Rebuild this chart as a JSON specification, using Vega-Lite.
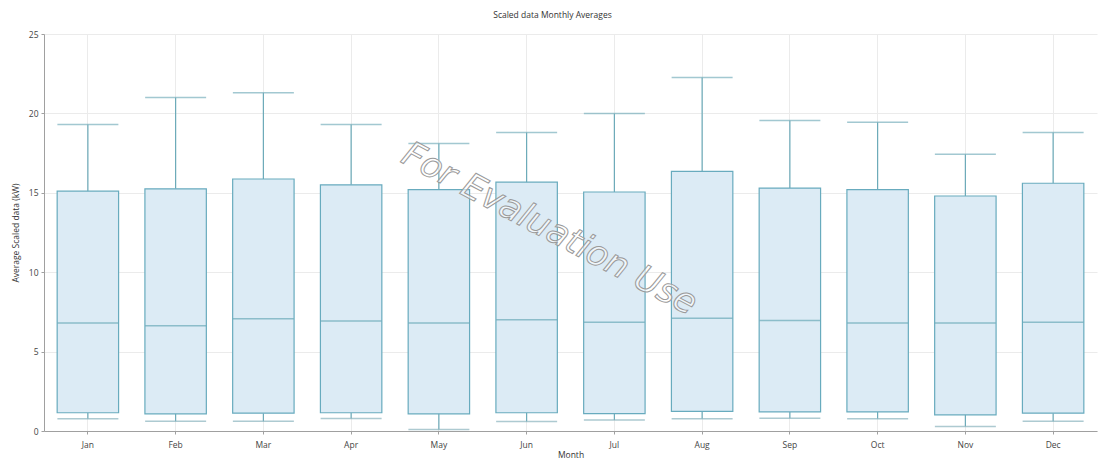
{
  "$schema": "https://vega.github.io/schema/vega-lite/v6.json",
  "width": 1053,
  "height": 397,
  "autosize": {"type": "none"},
  "padding": {"left": 44, "top": 34, "right": 2, "bottom": 32},
  "background": "white",
  "title": {
    "text": "Scaled data Monthly Averages",
    "font": "Open Sans",
    "fontSize": 8.5,
    "fontWeight": "normal",
    "color": "#333333",
    "anchor": "middle",
    "dx": -18,
    "offset": 11
  },
  "config": {
    "view": {"stroke": null},
    "axis": {
      "labelFont": "Open Sans",
      "titleFont": "Open Sans",
      "labelFontSize": 8.5,
      "titleFontSize": 8.5,
      "titleFontWeight": "normal",
      "labelColor": "#444444",
      "titleColor": "#333333",
      "domainColor": "#a0a0a0",
      "tickColor": "#a0a0a0",
      "gridColor": "#ebebeb",
      "tickSize": 3
    }
  },
  "data": {
    "values": [
      {"month": "Jan", "low": 0.77, "q1": 1.15, "median": 6.8, "q3": 15.1, "high": 19.3},
      {"month": "Feb", "low": 0.62, "q1": 1.08, "median": 6.62, "q3": 15.25, "high": 21.0},
      {"month": "Mar", "low": 0.62, "q1": 1.12, "median": 7.07, "q3": 15.87, "high": 21.3},
      {"month": "Apr", "low": 0.79, "q1": 1.15, "median": 6.92, "q3": 15.5, "high": 19.3},
      {"month": "May", "low": 0.1, "q1": 1.08, "median": 6.8, "q3": 15.2, "high": 18.1},
      {"month": "Jun", "low": 0.6, "q1": 1.15, "median": 7.0, "q3": 15.67, "high": 18.8},
      {"month": "Jul", "low": 0.7, "q1": 1.1, "median": 6.85, "q3": 15.05, "high": 20.0},
      {"month": "Aug", "low": 0.77, "q1": 1.23, "median": 7.1, "q3": 16.35, "high": 22.26},
      {"month": "Sep", "low": 0.8, "q1": 1.2, "median": 6.96, "q3": 15.3, "high": 19.56},
      {"month": "Oct", "low": 0.77, "q1": 1.2, "median": 6.8, "q3": 15.2, "high": 19.44},
      {"month": "Nov", "low": 0.28, "q1": 1.02, "median": 6.8, "q3": 14.8, "high": 17.42},
      {"month": "Dec", "low": 0.62, "q1": 1.12, "median": 6.85, "q3": 15.6, "high": 18.79}
    ]
  },
  "encoding": {
    "x": {
      "field": "month",
      "type": "nominal",
      "sort": null,
      "scale": {"paddingInner": 0, "paddingOuter": 0},
      "axis": {
        "title": "Month",
        "labelAngle": 0,
        "grid": true,
        "bandPosition": 0.5,
        "labelPadding": 6,
        "titlePadding": 2
      }
    }
  },
  "layer": [
    {
      "mark": {"type": "rule", "color": "#6aa9b8", "strokeWidth": 1.2},
      "encoding": {
        "y": {
          "field": "low",
          "type": "quantitative",
          "scale": {"domain": [0, 25], "nice": false, "zero": true},
          "axis": {
            "title": "Average Scaled data (kW)",
            "values": [0, 5, 10, 15, 20, 25],
            "grid": true,
            "labelPadding": 3,
            "titlePadding": 8
          }
        },
        "y2": {"field": "q1"}
      }
    },
    {
      "mark": {"type": "rule", "color": "#6aa9b8", "strokeWidth": 1.2},
      "encoding": {
        "y": {"field": "q3", "type": "quantitative"},
        "y2": {"field": "high"}
      }
    },
    {
      "mark": {"type": "bar", "width": {"band": 0.7}, "fill": "#dcebf5", "stroke": "#68abbe", "strokeWidth": 1.2},
      "encoding": {
        "y": {"field": "q1", "type": "quantitative"},
        "y2": {"field": "q3"}
      }
    },
    {
      "mark": {"type": "tick", "size": 61, "thickness": 1.5, "color": "#6aa9b8"},
      "encoding": {"y": {"field": "median", "type": "quantitative"}}
    },
    {
      "mark": {"type": "tick", "size": 61, "thickness": 1.5, "color": "#7ab0bd"},
      "encoding": {"y": {"field": "high", "type": "quantitative"}}
    },
    {
      "mark": {"type": "tick", "size": 61, "thickness": 1.5, "color": "#8ab4bd"},
      "encoding": {"y": {"field": "low", "type": "quantitative"}}
    },
    {
      "data": {"values": [{"month": "Jun", "v": 13.5, "label": "For Evaluation Use"}]},
      "mark": {
        "type": "text",
        "angle": 28,
        "font": "DejaVu Sans",
        "fontStyle": "italic",
        "fontSize": 35,
        "fill": "white",
        "fillOpacity": 0.6,
        "stroke": "#9a9a9a",
        "strokeWidth": 1,
        "dx": 26
      },
      "encoding": {
        "y": {"field": "v", "type": "quantitative"},
        "text": {"field": "label"}
      }
    }
  ]
}
